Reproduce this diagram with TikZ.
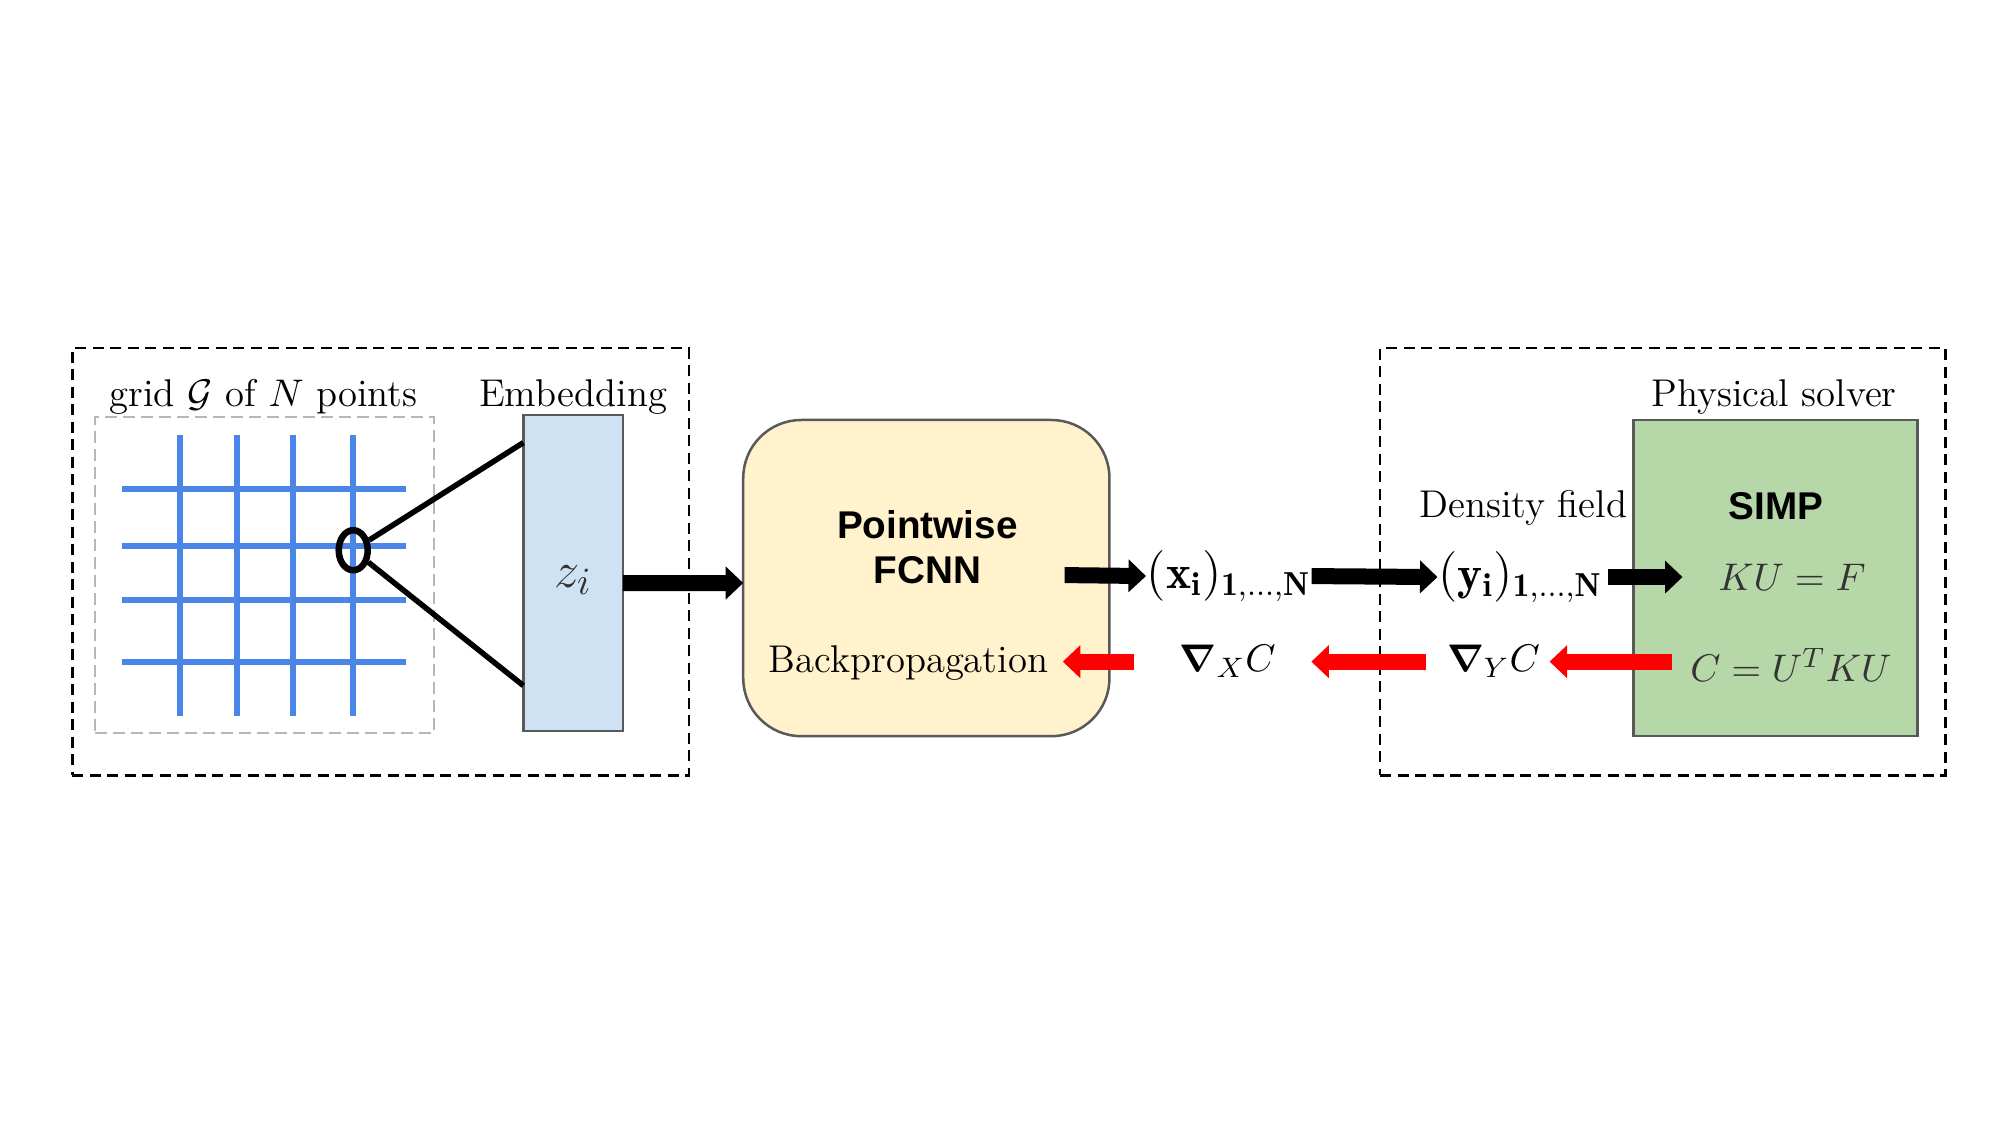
\documentclass[tikz,border=0pt]{standalone}
\usepackage{fontspec}
\usepackage{bm}
\newfontfamily\arialf{Liberation Sans}
\usetikzlibrary{arrows.meta,shapes.geometric}
\definecolor{gridblue}{HTML}{4A86E8}
\definecolor{embblue}{HTML}{CFE2F3}
\definecolor{fcnnyellow}{HTML}{FFF2CC}
\definecolor{simpgreen}{HTML}{B6D7A8}
\definecolor{boxgray}{HTML}{595959}
\definecolor{dashgray}{HTML}{B7B7B7}
\definecolor{arrred}{HTML}{FF0000}
\begin{document}
\begin{tikzpicture}[x=0.01cm,y=-0.01cm,
  lbl/.style={inner sep=0pt, font=\fontsize{11}{13}\selectfont},
  mlbl/.style={inner sep=0pt, font=\fontsize{11}{13}\selectfont},
  biglbl/.style={inner sep=0pt, font=\fontsize{13.5}{15}\selectfont},
  sflbl/.style={inner sep=0pt, align=center, font=\arialf\bfseries\fontsize{11}{13}\selectfont},
  outerbox/.style={draw=black, line width=0.25mm, dash pattern=on 1.1mm off 0.65mm, minimum height=4.27cm, outer sep=0pt, inner sep=0pt},
  gridbox/.style={draw=dashgray, line width=0.2mm, dash pattern=on 1.2mm off 0.6mm, minimum width=3.39cm, minimum height=3.16cm, outer sep=0pt, inner sep=0pt},
  solidbox/.style={draw=boxgray, line width=0.25mm, minimum height=3.16cm, outer sep=0pt, inner sep=0pt},
  gridln/.style={draw=gridblue, line width=0.6mm},
  fatarrow/.style={line width=1.6mm, -{Triangle[length=1.75mm,width=3.2mm]}},
  blackarrow/.style={fatarrow, draw=black},
  redarrow/.style={fatarrow, draw=arrred},
  thinblack/.style={draw=black, line width=0.55mm}
]
\useasboundingbox (0,0) rectangle (2000,1125);
\begin{scope}[scale=0.995]
% outer dashed groups
\node[outerbox, minimum width=6.16cm] (leftgroup) at (382.5,564.5) {};
\node[outerbox, minimum width=5.65cm] (rightgroup) at (1671,564.5) {};

% grid
\node[gridbox] (gridframe) at (265.5,578) {};
\foreach \gx in {181,238,294,355} {
  \draw[gridln] (\gx,437) -- (\gx,720);
}
\foreach \gy in {491,549,603,665} {
  \draw[gridln] (123,\gy) -- (408,\gy);
}
\node[ellipse, draw=black, line width=0.65mm, minimum width=0.29cm, minimum height=0.40cm, inner sep=0pt] (pt) at (355,553) {};

% embedding
\node[solidbox, fill=embblue, minimum width=0.995cm] (emb) at (576,576) {};
\node[inner sep=0pt, text=black!80, font=\fontsize{15}{17}\selectfont] (zi) at (576,583) {$z_i$};
\coordinate (e1) at ([yshift=1.31cm]emb.west);
\coordinate (e2) at ([yshift=-1.13cm]emb.west);
\draw[thinblack] (pt) -- (e1);
\draw[thinblack] (pt) -- (e2);

\node[lbl] (gridlabel) at (265,399) {grid $\mathcal{G}$ of $N$ points};
\node[lbl] (emblabel) at (576,399) {Embedding};

% FCNN
\node[draw=boxgray, line width=0.25mm, fill=fcnnyellow, rounded corners=0.58cm, minimum width=3.66cm, minimum height=3.16cm, outer sep=0pt, inner sep=0pt] (fcnn) at (931,581) {};
\node[sflbl] (pw) at (932,550) {Pointwise\\FCNN};
\node[lbl] (bp) at (913,666) {Backpropagation};

% physical solver
\node[solidbox, fill=simpgreen, minimum width=2.84cm] (simp) at (1784.5,581) {};
\node[sflbl] (simplabel) at (1785,509) {SIMP};
\node[mlbl, text=black!80] (ku) at (1801,580) {$KU=F$};
\node[mlbl, text=black!80] (cu) at (1800,668) {$C=U^TKU$};
\node[lbl] (physlabel) at (1783,399) {Physical solver};
\node[lbl] (denslabel) at (1531,510) {Density field};

% forward quantities
\node[biglbl] (xl) at (1235,579) {$(\mathbf{x_i})_{\mathbf{1,\ldots,N}}$};
\node[biglbl] (yl) at (1528,580) {$(\mathbf{y_i})_{\mathbf{1,\ldots,N}}$};

% backward quantities
\node[mlbl] (gx) at (1234,665) {$\bm{\nabla}_{X}C$};
\node[mlbl] (gy) at (1501,665) {$\bm{\nabla}_{Y}C$};

% forward arrows
\coordinate (fo) at (1070,578);
\draw[blackarrow] ([yshift=-0.1cm]emb.east) -- ([yshift=-0.05cm]fcnn.west);
\draw[blackarrow] (fo) -- (xl.west);
\draw[blackarrow] (xl.east) -- (yl.west);
\draw[blackarrow, shorten <=0.05cm, shorten >=0.35cm] (yl.east) -- (ku.west |- yl.east);

% backward arrows
\draw[redarrow, shorten <=0.18cm, shorten >=0.09cm] (cu.west |- gy.east) -- (gy.east);
\draw[redarrow, shorten <=0.2cm, shorten >=0.35cm] (gy.west) -- (gx.east);
\draw[redarrow, shorten <=0.45cm, shorten >=0.14cm] (gx.west) -- (bp.east |- gx.west);
\end{scope}
\end{tikzpicture}
\end{document}
